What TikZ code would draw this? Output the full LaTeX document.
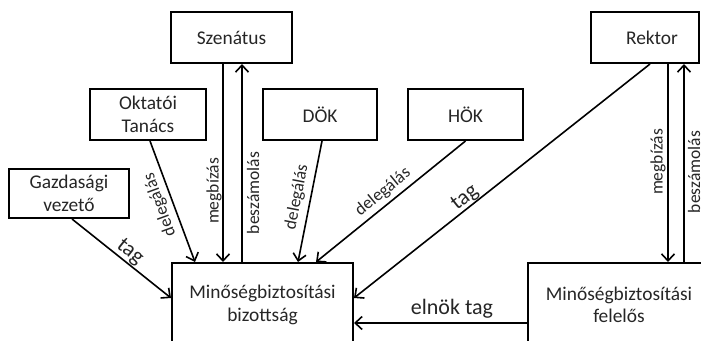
\documentclass[tikz,border=0pt]{standalone}
\usepackage{fontspec}
\setmainfont{Carlito}
\usetikzlibrary{arrows.meta}
\begin{document}
\begin{tikzpicture}[x=1pt,y=-1pt,
 box/.style={draw, line width=2pt, minimum height=51pt, align=center, inner sep=0pt,
   font=\fontsize{19.4}{22.5}\selectfont, text=black!85},
 conn/.style={line width=1.6pt, -{Straight Barb[length=7pt,width=13pt,line width=1.6pt]}},
 plain/.style={line width=1.6pt},
 lbl/.style={font=\fontsize{17.5}{20}\selectfont, inner sep=0pt, text=black!85},
 biglbl/.style={font=\fontsize{22}{24}\selectfont, inner sep=0pt, text=black!85}]
\useasboundingbox (0,0) rectangle (701,340);
\fill[white] (0,0) rectangle (701,340);
\begin{scope}
\clip (0,0) rectangle (701,340);
% boxes
\node[box, minimum width=121pt] (szen) at (231.5,37.5) {Szenátus};
\node[box, minimum width=116pt] (okt) at (148,114.5) {Oktatói\\Tanács};
\node[box, minimum width=114pt] (dok) at (320,114.5) {DÖK};
\node[box, minimum width=115pt] (hok) at (465.5,114.5) {HÖK};
\node[box, minimum width=108pt] (rek) at (645,37.5) {\hspace*{14pt}Rektor};
\node[box, minimum width=120pt, minimum height=49pt] (gaz) at (69,193.5) {Gazdasági\\vezető};
\node[box, minimum width=181pt, minimum height=84pt] (biz) at (262.5,305) {Minőségbiztosítási\\bizottság};
\node[box, minimum width=182pt, minimum height=84pt] (fel) at (619,305) {Minőségbiztosítási\\felelős};
% connectors
\draw[conn] ([xshift=-8.5pt]szen.south) -- ([xshift=-39.5pt]biz.north);
\draw[conn] ([xshift=-20.5pt]biz.north) -- ([xshift=10.5pt]szen.south);
\draw[conn] ([xshift=2pt]okt.south) -- ([xshift=-67.5pt]biz.north);
\draw[conn] ([xshift=2pt]dok.south) -- ([xshift=35.5pt]biz.north);
\draw[conn] (hok.south) -- ([xshift=53.5pt]biz.north);
\draw[conn] ([xshift=5pt]rek.south) -- ([yshift=7pt]biz.east);
\draw[conn] ([xshift=3pt]gaz.south) -- ([yshift=7pt]biz.west);
\draw[conn] ([xshift=23pt]rek.south) -- ([xshift=49pt]fel.north);
\draw[conn] ([xshift=65pt]fel.north) -- ([xshift=39pt]rek.south);
\draw[conn] ([yshift=-18pt]fel.west) -- ([yshift=-18pt]biz.east);
% labels
\node[lbl, rotate=110] (l1) at (160,205) {delegálás};
\node[lbl, rotate=90] (l2) at (214,191) {megbízás};
\node[lbl, rotate=90] (l3) at (253,193) {beszámolás};
\node[lbl, rotate=79] (l4) at (297,197) {delegálás};
\node[lbl, rotate=39.5] (l5) at (383,192) {delegálás};
\node[biglbl, rotate=38.4] (l6) at (465,198) {tag};
\node[biglbl, rotate=-38.7] (l7) at (130,252) {tag};
\node[lbl, rotate=90] (l8) at (658,162) {megbízás};
\node[lbl, rotate=90] (l9) at (694,172) {beszámolás};
\node[biglbl] (l10) at (452,309) {elnök tag};
\end{scope}
\end{tikzpicture}
\end{document}
